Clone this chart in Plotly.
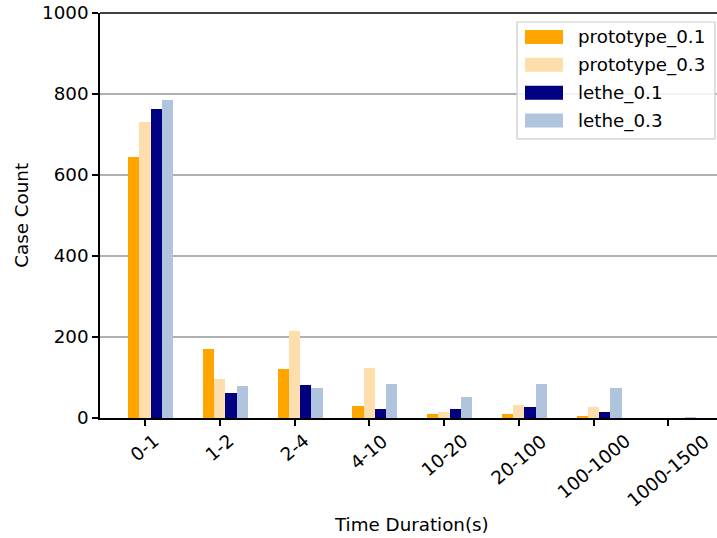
import plotly.graph_objects as go

categories = ["0-1", "1-2", "2-4", "4-10", "10-20", "20-100", "100-1000", "1000-1500"]
prototype_01 = [645, 171, 121, 30, 11, 11, 6, 0]
prototype_03 = [731, 97, 215, 124, 15, 33, 26, 0]
lethe_01 = [763, 62, 82, 23, 23, 26, 15, 0]
lethe_03 = [785, 80, 75, 85, 52, 85, 75, 2]

series_names = ["prototype_0.1", "prototype_0.3", "lethe_0.1", "lethe_0.3"]
series_values = [prototype_01, prototype_03, lethe_01, lethe_03]
colors = ["#FFA500", "#FFDEAD", "#000080", "#B0C4DE"]
offsets = [-0.15, 0.0, 0.15, 0.3]
bar_w = 0.15

W, H = 717, 538
SL, SR, ST, SB = 100, 717, 13, 418.5
ML = SL
MR = W - SR
MT = ST
MB = H - SB
FONT = "DejaVu Sans"
FS = 18.3

fig = go.Figure()
xi = list(range(len(categories)))
for name, vals, col, off in zip(series_names, series_values, colors, offsets):
    fig.add_trace(go.Bar(
        x=[i + off for i in xi], y=vals, width=bar_w, name=name,
        marker=dict(color=col, line=dict(width=0)), showlegend=False,
    ))

pw = SR - SL
ph = SB - ST
def px(x):
    return (x - SL) / pw
def py(y):
    return (SB - y) / ph

shapes = []
annotations = []
shapes.append(dict(type="line", xref="paper", yref="paper", x0=0, x1=1, y0=1, y1=1,
                   line=dict(color="black", width=1.5), layer="above"))
shapes.append(dict(type="rect", xref="paper", yref="paper",
                   x0=px(517), x1=px(715), y0=py(139), y1=py(22),
                   line=dict(color="#cccccc", width=1.2), fillcolor="rgba(255,255,255,0.85)", layer="above"))
for k, (name, col) in enumerate(zip(series_names, colors)):
    cy = 37 + k * 27.9
    shapes.append(dict(type="rect", xref="paper", yref="paper",
                       x0=px(525), x1=px(563), y0=py(cy + 7), y1=py(cy - 7),
                       line=dict(width=0), fillcolor=col, layer="above"))
    annotations.append(dict(xref="paper", yref="paper", x=px(576), y=py(cy),
                            text=name, showarrow=False, xanchor="left", yanchor="middle",
                            font=dict(family=FONT, size=FS, color="black")))

for i, cat in zip(xi, categories):
    annotations.append(dict(xref="x", yref="paper", x=i, y=py(428), text=cat,
                            showarrow=False, xanchor="center", yanchor="top", textangle=-40,
                            font=dict(family=FONT, size=FS, color="black")))

annotations.append(dict(xref="paper", yref="paper", x=px(412), y=py(525), text="Time Duration(s)",
                        showarrow=False, xanchor="center", yanchor="middle",
                        font=dict(family=FONT, size=FS, color="black")))
annotations.append(dict(xref="paper", yref="paper", x=px(22), y=py(216), text="Case Count",
                        showarrow=False, xanchor="center", yanchor="middle", textangle=-90,
                        font=dict(family=FONT, size=FS, color="black")))

fig.update_layout(
    width=W, height=H,
    margin=dict(l=ML, r=MR, t=MT, b=MB, autoexpand=False),
    plot_bgcolor="white", paper_bgcolor="white",
    font=dict(family=FONT, size=FS, color="black"),
    barmode="overlay", bargap=0,
    shapes=shapes, annotations=annotations,
    showlegend=False,
)
fig.update_xaxes(
    range=[-0.602, 7.651], tickmode="array", tickvals=xi, ticktext=categories,
    showticklabels=False, ticks="outside", ticklen=6, tickwidth=1.5, tickcolor="black",
    showline=True, linecolor="black", linewidth=1.5,
    showgrid=False, zeroline=False, automargin=False,
)
fig.update_yaxes(
    range=[0, 1000], tickmode="array", tickvals=[0, 200, 400, 600, 800, 1000],
    ticks="outside", ticklen=6, tickwidth=1.5, tickcolor="black", ticklabeloverflow="allow",
    showline=True, linecolor="black", linewidth=1.5,
    showgrid=True, gridcolor="#b0b0b0", gridwidth=1.5, zeroline=False, automargin=False,
)
fig.write_html("out.html", config={"displayModeBar": False},
               post_script="document.body.style.margin='0';document.body.style.padding='0';")
